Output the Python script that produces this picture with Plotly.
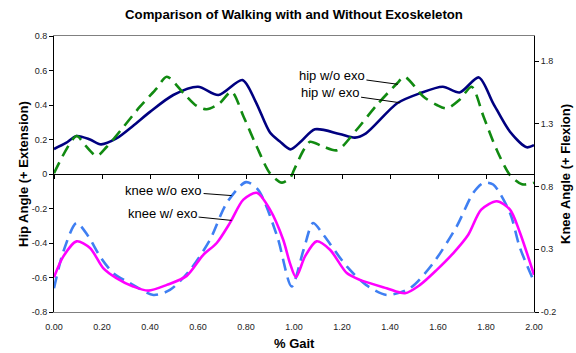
import plotly.graph_objects as go

# ---- data ----
hip_with_g = [0.00, 0.05, 0.094, 0.15, 0.196, 0.26, 0.33, 0.40, 0.497, 0.60, 0.685, 0.785, 0.84, 0.90, 0.94, 0.985,
              1.03, 1.0875, 1.19, 1.254, 1.30, 1.43, 1.525, 1.62, 1.69, 1.77, 1.83, 1.90, 1.97, 2.00]
hip_with = [0.145, 0.18, 0.22, 0.20, 0.172, 0.206, 0.28, 0.36, 0.458, 0.506, 0.458, 0.545, 0.42, 0.24, 0.19, 0.143,
            0.19, 0.259, 0.232, 0.211, 0.236, 0.41, 0.468, 0.506, 0.473, 0.56, 0.41, 0.245, 0.155, 0.168]

hip_without_g = [0.00, 0.094, 0.129, 0.178, 0.22, 0.29, 0.358, 0.428, 0.47, 0.54, 0.595, 0.636, 0.69, 0.74, 0.79,
                 0.845, 0.90, 0.95, 0.985, 1.00, 1.04, 1.067, 1.12, 1.18, 1.26, 1.345, 1.43, 1.46, 1.54, 1.595,
                 1.636, 1.69, 1.74, 1.79, 1.845, 1.90, 1.95, 2.00]
hip_without = [0.004, 0.22, 0.168, 0.105, 0.158, 0.274, 0.39, 0.497, 0.564, 0.468, 0.394, 0.375, 0.41, 0.477, 0.332,
               0.158, 0.004, -0.05, -0.02, 0.023, 0.139, 0.187, 0.16, 0.138, 0.255, 0.40, 0.526, 0.564, 0.448, 0.40,
               0.38, 0.43, 0.506, 0.332, 0.139, -0.006, -0.06, -0.05]

knee_with_g = [0.00, 0.039, 0.094, 0.15, 0.205, 0.26, 0.33, 0.393, 0.47, 0.553, 0.622, 0.678, 0.733, 0.789, 0.845,
               0.90, 0.955, 0.983, 1.008, 1.046, 1.094, 1.15, 1.22, 1.275, 1.386, 1.4625, 1.525, 1.595, 1.664,
               1.726, 1.78, 1.845, 1.90, 1.94, 2.00]
knee_with = [0.077, 0.243, 0.363, 0.31, 0.15, 0.07, 0.003, -0.03, 0.016, 0.088, 0.256, 0.35, 0.51, 0.696, 0.75,
             0.616, 0.376, 0.19, 0.078, 0.243, 0.363, 0.296, 0.11, 0.056, -0.01, -0.05, 0.016, 0.136, 0.27,
             0.416, 0.616, 0.683, 0.616, 0.44, 0.096]

knee_without_g = [0.00, 0.039, 0.094, 0.143, 0.192, 0.247, 0.317, 0.414, 0.483, 0.567, 0.65, 0.72, 0.80, 0.85,
                  0.93, 0.99, 1.04, 1.08, 1.122, 1.22, 1.30, 1.386, 1.483, 1.58, 1.678, 1.747, 1.79, 1.83, 1.90,
                  1.94, 2.00]
knee_without = [-0.01, 0.282, 0.51, 0.403, 0.243, 0.11, 0.03, -0.064, -0.024, 0.136, 0.376, 0.67, 0.835, 0.776,
                0.403, 0.003, 0.296, 0.51, 0.416, 0.163, 0.016, -0.064, -0.01, 0.19, 0.483, 0.75, 0.83, 0.816, 0.59,
                0.32, 0.043]

x_ticks = [0.0, 0.2, 0.4, 0.6, 0.8, 1.0, 1.2, 1.4, 1.6, 1.8, 2.0]
x_ticktext = ["0.00", "0.20", "0.40", "0.60", "0.80", "1.00", "1.20", "1.40", "1.60", "1.80", "2.00"]
hip_ticks = [0.8, 0.6, 0.4, 0.2, 0, -0.2, -0.4, -0.6, -0.8]
hip_ticktext = ["0.8", "0.6", "0.4", "0.2", "0", "-0.2", "-0.4", "-0.6", "-0.8"]
knee_ticks = [-0.2, 0.3, 0.8, 1.3, 1.8]
knee_ticktext = ["-0.2", "0.3", "0.8", "1.3", "1.8"]

FONT = "Liberation Sans, Arial, sans-serif"
NAVY = "#000080"
GREEN = "#118a11"
MAGENTA = "#ff00ff"
BLUE = "#3f7ff2"

fig = go.Figure()
fig.add_trace(go.Scatter(x=knee_without_g, y=knee_without, xaxis="x", yaxis="y2", mode="lines",
                         line=dict(color=BLUE, width=2.6, dash="12px,7px", shape="spline", smoothing=0.8)))
fig.add_trace(go.Scatter(x=knee_with_g, y=knee_with, xaxis="x", yaxis="y2", mode="lines",
                         line=dict(color=MAGENTA, width=2.6, shape="spline", smoothing=0.8)))
fig.add_trace(go.Scatter(x=hip_without_g, y=hip_without, xaxis="x2", yaxis="y", mode="lines",
                         line=dict(color=GREEN, width=2.6, dash="12px,7px", shape="spline", smoothing=0.8)))
fig.add_trace(go.Scatter(x=hip_with_g, y=hip_with, xaxis="x", yaxis="y", mode="lines",
                         line=dict(color=NAVY, width=2.6, shape="spline", smoothing=0.8)))

tickfont = dict(family=FONT, size=9, color="#222")

fig.update_layout(
    width=576, height=353,
    margin=dict(l=54, r=42, t=36, b=41),
    paper_bgcolor="white", plot_bgcolor="white",
    showlegend=False,
    font=dict(family=FONT, color="black"),
    title=dict(text="<b>Comparison of Walking with and Without Exoskeleton</b>",
               font=dict(family=FONT, size=13.2, color="black"),
               x=0.5, xanchor="center", xref="paper", y=1 - 14 / 353, yanchor="middle", yref="container"),
    xaxis=dict(range=[0, 2], tickvals=x_ticks, ticktext=x_ticktext, tickfont=tickfont,
               showgrid=False, zeroline=False, showline=True, linecolor="#808080", linewidth=1,
               mirror=True, ticks="", anchor="y", ticklabelstandoff=6),
    xaxis2=dict(range=[0, 2], overlaying="x", anchor="free", position=0.5, side="bottom",
                tickvals=x_ticks, showticklabels=False, showgrid=False, zeroline=False,
                showline=True, linecolor="black", linewidth=1, ticks="outside", ticklen=4, tickcolor="black"),
    yaxis=dict(range=[-0.8, 0.8], tickvals=hip_ticks, ticktext=hip_ticktext, tickfont=tickfont,
               showgrid=False, zeroline=False, showline=True, linecolor="black", linewidth=1,
               ticks="outside", ticklen=4, tickcolor="black"),
    yaxis2=dict(range=[-0.2, 2.0], overlaying="y", side="right", anchor="x",
                tickvals=knee_ticks, ticktext=knee_ticktext, tickfont=tickfont,
                showgrid=False, zeroline=False, showline=True, linecolor="black", linewidth=1,
                ticks="outside", ticklen=4, tickcolor="black"),
)

ann_font = dict(family=FONT, size=13, color="black")
annotations = [
    dict(text="hip w/o exo", x=1.433, y=0.52, xref="x", yref="y", ax=-66, ay=-9),
    dict(text="hip w/ exo", x=1.442, y=0.413, xref="x", yref="y", ax=-70, ay=-10),
    dict(text="knee w/o exo", x=0.74, y=0.728, xref="x", yref="y2", ax=-68, ay=-5),
    dict(text="knee w/ exo", x=0.74, y=0.53, xref="x", yref="y2", ax=-69, ay=-7),
]
for a in annotations:
    fig.add_annotation(**a, showarrow=True, arrowhead=0, arrowwidth=1, arrowcolor="black",
                       font=ann_font, standoff=0)

# axis titles
fig.add_annotation(text="<b>Hip Angle (+ Extension)</b>", xref="paper", yref="paper", x=0, y=0.5,
                   xshift=-31, textangle=-90, showarrow=False, xanchor="center", yanchor="middle",
                   font=dict(family=FONT, size=13, color="black"))
fig.add_annotation(text="<b>Knee Angle (+ Flexion)</b>", xref="paper", yref="paper", x=1, y=0.5,
                   xshift=31, textangle=-90, showarrow=False, xanchor="center", yanchor="middle",
                   font=dict(family=FONT, size=13, color="black"))
fig.add_annotation(text="<b>% Gait</b>", xref="paper", yref="paper", x=0.5, y=0,
                   yshift=-31, showarrow=False, xanchor="center", yanchor="middle",
                   font=dict(family=FONT, size=13, color="black"))

fig.write_html("out.html", config={"displayModeBar": False},
               post_script="document.body.style.margin='0';")
